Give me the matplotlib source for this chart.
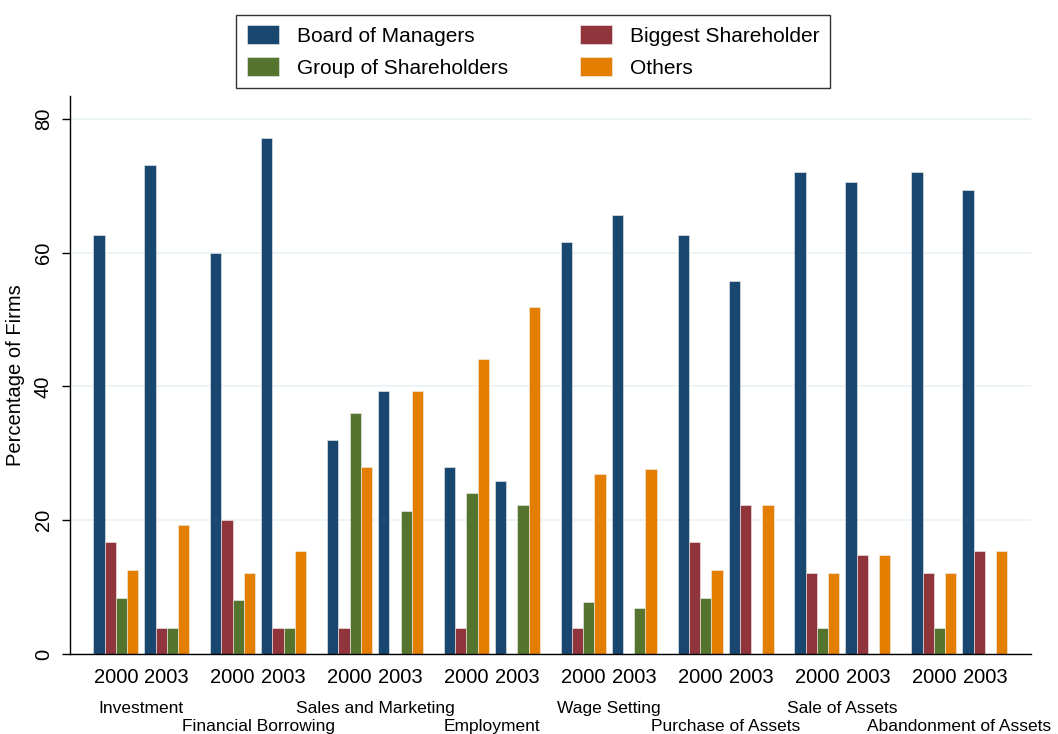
import numpy as np
import matplotlib
matplotlib.use("Agg")
import matplotlib.pyplot as plt

plt.rcParams["font.family"] = ["Liberation Sans", "DejaVu Sans"]

# data (percentage of firms)
categories = ["Investment", "Financial Borrowing", "Sales and Marketing", "Employment",
              "Wage Setting", "Purchase of Assets", "Sale of Assets", "Abandonment of Assets"]
years = ["2000", "2003"]
series = ["Board of Managers", "Biggest Shareholder", "Group of Shareholders", "Others"]

# one value per (category, year): [2000, 2003, 2000, 2003, ...]
board = [62.6, 73.1, 60.0, 77.1, 32.0, 39.3, 28.0, 25.9,
         61.6, 65.6, 62.6, 55.7, 72.0, 70.5, 72.0, 69.3]
biggest = [16.7, 3.9, 20.0, 3.9, 3.9, 0.0, 3.9, 0.0,
           3.9, 0.0, 16.7, 22.3, 12.1, 14.8, 12.1, 15.4]
group = [8.3, 3.9, 8.0, 3.9, 36.0, 21.4, 24.0, 22.2,
         7.7, 6.9, 8.3, 0.0, 3.9, 0.0, 3.9, 0.0]
others = [12.6, 19.3, 12.1, 15.4, 28.0, 39.3, 44.1, 51.9,
          26.9, 27.6, 12.6, 22.3, 12.1, 14.8, 12.1, 15.4]

colors = ["#1a476f", "#90353b", "#55752f", "#e37e00"]

# layout (pixel-like units along x)
w = 11.25          # bar width
off0 = 23.8        # first bar left edge from axis
year_step = 51.0   # 2000 -> 2003 group
cat_step = 116.86  # category pitch

fig = plt.figure(figsize=(10.58, 7.34), dpi=100)
ax = fig.add_axes([69.5 / 1058, 80 / 734, (1031 - 69.5) / 1058, (654 - 96) / 734])

ncat = len(categories)
group_left = np.array([off0 + c * cat_step + y * year_step
                       for c in range(ncat) for y in range(len(years))])

handles = []
for k, (vals, col, name) in enumerate(zip([board, biggest, group, others], colors, series)):
    b = ax.bar(group_left + k * w, vals, width=w, align="edge", color=col,
               edgecolor="#f0f0f0", linewidth=0.4, label=name, zorder=2)
    handles.append(b)

ax.set_xlim(0, 961.5)
ax.set_ylim(0, 83.4)
ax.set_yticks([0, 20, 40, 60, 80])
ax.yaxis.grid(True, color="#eaf2f3", linewidth=1.2, zorder=0)
ax.set_axisbelow(True)
for s in ["top", "right"]:
    ax.spines[s].set_visible(False)
for s in ["left", "bottom"]:
    ax.spines[s].set_linewidth(1.0)
    ax.spines[s].set_zorder(3)

ax.tick_params(axis="y", length=6, width=1, pad=6, labelsize=14.5)
for lab in ax.get_yticklabels():
    lab.set_rotation(90)
    lab.set_va("center")

ax.set_xticks(group_left + 2 * w)
ax.set_xticklabels(years * ncat)
ax.tick_params(axis="x", length=0, pad=10, labelsize=14.5)

ax.set_ylabel("Percentage of Firms", fontsize=14.5, labelpad=6)

# category labels on two staggered rows
trans = matplotlib.transforms.blended_transform_factory(ax.transData, fig.transFigure)
for c, name in enumerate(categories):
    xc = off0 + c * cat_step + (year_step + 4 * w) / 2
    yb = 1 - 713 / 734 if c % 2 == 0 else 1 - 731 / 734
    ax.text(xc, yb, name, transform=trans, ha="center", va="baseline", fontsize=12.5)

# legend filled row-wise like the reference
order = [0, 2, 1, 3]
leg = fig.legend(handles=[handles[i] for i in order], labels=[series[i] for i in order],
                 ncol=2, loc="upper center",
                 bbox_to_anchor=(533 / 1058, 1 - 15 / 734), fontsize=15,
                 frameon=True, fancybox=False, edgecolor="black",
                 handlelength=1.55, handleheight=1.0, handletextpad=0.85,
                 columnspacing=3.45, borderpad=0.5, labelspacing=0.55,
                 borderaxespad=0)
leg.get_frame().set_linewidth(1.0)

fig.savefig("out.png", dpi=100)
